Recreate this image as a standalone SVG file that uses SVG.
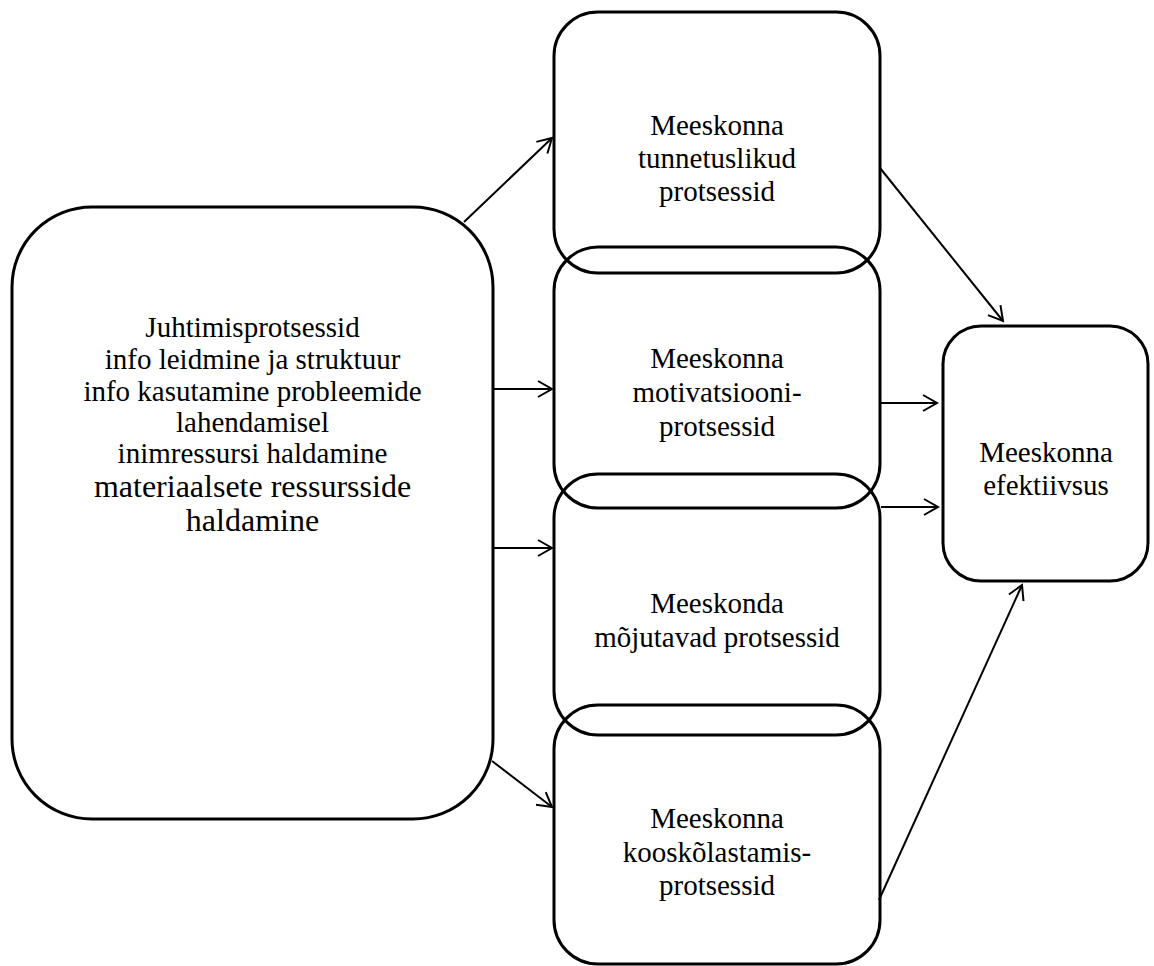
<svg xmlns="http://www.w3.org/2000/svg" width="1154" height="966" viewBox="0 0 1154 966">
<style>
.box{fill:none;stroke:#000;stroke-width:3}
.t{font-family:'Liberation Serif','Times New Roman',serif;font-size:29px;fill:#000;text-anchor:middle}
.tl{font-size:32px}
.c{stroke:#000;stroke-width:2;fill:none;marker-end:url(#ah)}
</style>
<defs>
<marker id="ah" markerUnits="userSpaceOnUse" markerWidth="20" markerHeight="20" viewBox="0 0 20 20" refX="17" refY="10" orient="auto">
<path d="M3,2 L17,10 L3,18" fill="none" stroke="#000" stroke-width="2"/>
</marker>
</defs>
<rect width="1154" height="966" fill="#fff"/>
<g id="connectors">
<line class="c" x1="464" y1="222" x2="552" y2="138"/>
<line class="c" x1="494" y1="389" x2="552" y2="389"/>
<line class="c" x1="494" y1="548" x2="552" y2="548"/>
<line class="c" x1="492" y1="761" x2="552" y2="807"/>
<line class="c" x1="880" y1="168" x2="1003" y2="321"/>
<line class="c" x1="881" y1="403" x2="937" y2="403"/>
<line class="c" x1="881" y1="507" x2="938" y2="507"/>
<line class="c" x1="879" y1="900" x2="1022" y2="585"/>
</g>
<g id="node-juhtimine">
<rect class="box" x="12" y="207" width="481" height="612" rx="80" ry="80"/>
<text class="t" x="252.5" y="337">Juhtimisprotsessid</text>
<text class="t" x="252.5" y="369">info leidmine ja struktuur</text>
<text class="t" x="252.5" y="401">info kasutamine probleemide</text>
<text class="t" x="252.5" y="432">lahendamisel</text>
<text class="t" x="252.5" y="463">inimressursi haldamine</text>
<text class="t tl" x="252.5" y="497">materiaalsete ressursside</text>
<text class="t tl" x="252.5" y="531">haldamine</text>
</g>
<g id="node-tunnetuslikud">
<rect class="box" x="554" y="12" width="326" height="261" rx="44" ry="44"/>
<text class="t" x="717" y="135">Meeskonna</text>
<text class="t" x="717" y="168">tunnetuslikud</text>
<text class="t" x="717" y="201">protsessid</text>
</g>
<g id="node-motivatsiooni">
<rect class="box" x="554" y="247" width="326" height="261" rx="44" ry="44"/>
<text class="t" x="717" y="368">Meeskonna</text>
<text class="t" x="717" y="402">motivatsiooni-</text>
<text class="t" x="717" y="436">protsessid</text>
</g>
<g id="node-mojutavad">
<rect class="box" x="554" y="474" width="326" height="261" rx="44" ry="44"/>
<text class="t" x="717" y="613">Meeskonda</text>
<text class="t" x="717" y="647">mõjutavad protsessid</text>
</g>
<g id="node-kooskolastamis">
<rect class="box" x="554" y="705" width="326" height="259" rx="44" ry="44"/>
<text class="t" x="717" y="828">Meeskonna</text>
<text class="t" x="717" y="862">kooskõlastamis-</text>
<text class="t" x="717" y="895">protsessid</text>
</g>
<g id="node-efektiivsus">
<rect class="box" x="943" y="326" width="205" height="255" rx="38" ry="38"/>
<text class="t" x="1046" y="462">Meeskonna</text>
<text class="t" x="1046" y="495">efektiivsus</text>
</g>
</svg>
